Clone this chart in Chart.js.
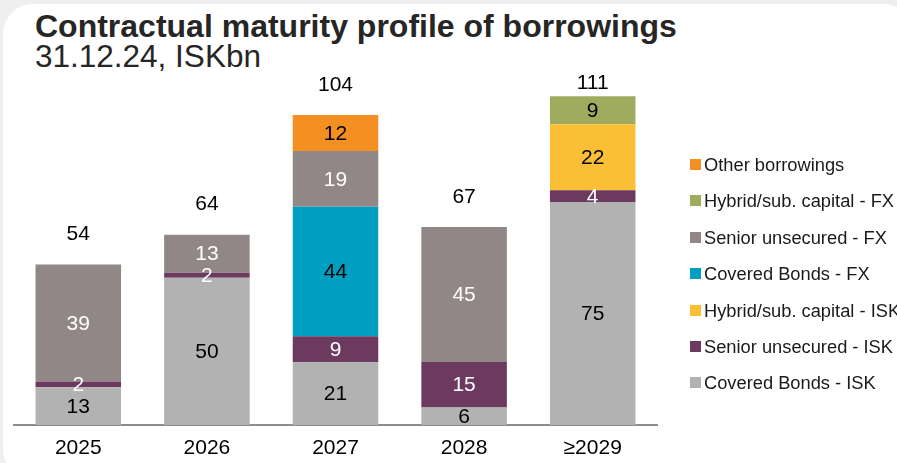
<!DOCTYPE html>
<html>
<head>
<meta charset="utf-8">
<script src="https://cdn.jsdelivr.net/npm/chart.js@4"></script>
<style>
  html, body { margin: 0; padding: 0; }
  body { width: 897px; height: 463px; overflow: hidden; background: #efefef; position: relative;
         font-family: "Liberation Sans", Arial, sans-serif; }
  .card { position: absolute; left: 3px; top: 4px; width: 910px; height: 475px; background: #fff; border-radius: 30px; }
  #myChart { position: absolute; left: 0; top: 0; }
  .title { position: absolute; left: 35px; top: 9px; font-size: 32px; font-weight: bold; color: #262626; line-height: 34px; white-space: nowrap; }
  .sub { position: absolute; left: 35px; top: 39px; font-size: 31.5px; color: #262626; line-height: 34px; white-space: nowrap; }
  #legend { position: absolute; left: 690px; top: 154px; }
  .item { height: 36.4px; font-size: 18.3px; color: #1a1a1a; white-space: nowrap; display: flex; align-items: flex-start; }
  .box { width: 11px; height: 11px; margin-top: 5px; margin-right: 3px; }
</style>
</head>
<body>
<div class="card"></div>
<div class="title">Contractual maturity profile of borrowings</div>
<div class="sub">31.12.24, ISKbn</div>
<canvas id="myChart" width="897" height="463"></canvas>
<div id="legend"></div>
<script>
const ctx = document.getElementById('myChart');

// data, ISKbn (segment heights estimated, labels are rounded)
const years = ['2025', '2026', '2027', '2028', '≥2029'];
const coveredIsk = [12.7, 49.5, 21.1, 5.9, 75.0];
const seniorIsk = [1.9, 1.7, 8.7, 15.3, 3.9];
const hybridIsk = [0, 0, 0, 0, 22.2];
const coveredFx = [0, 0, 43.6, 0, 0];
const seniorFx = [39.4, 12.8, 18.7, 45.4, 0];
const hybridFx = [0, 0, 0, 0, 9.4];
const other = [0, 0, 12.1, 0, 0];
const totals = [54, 64, 104, 67, 111];

const fontFam = '"Liberation Sans", Arial, sans-serif';

function ds(label, data, color, textColor){
    return {
        label: label,
        data: data,
        backgroundColor: color,
        textColor: textColor,
        barPercentage: 0.665,
        categoryPercentage: 1.0
    };
}

const datasets = [
    ds('Covered Bonds - ISK', coveredIsk, '#b2b2b2', '#000'),
    ds('Senior unsecured - ISK', seniorIsk, '#6b3a5e', '#fff'),
    ds('Hybrid/sub. capital - ISK', hybridIsk, '#fbbf36', '#000'),
    ds('Covered Bonds - FX', coveredFx, '#009fc2', '#000'),
    ds('Senior unsecured - FX', seniorFx, '#918787', '#fff'),
    ds('Hybrid/sub. capital - FX', hybridFx, '#9fab5e', '#000'),
    ds('Other borrowings', other, '#f39021', '#000')
];

// draws the value in each segment and the total above each bar
const labelPlugin = {
    id: 'labels',
    afterDatasetsDraw(chart){
        const c = chart.ctx;
        c.save();
        c.font = '21px ' + fontFam;
        c.textAlign = 'center';
        c.textBaseline = 'middle';
        let tops = [];
        chart.data.datasets.forEach((d, i) => {
            const meta = chart.getDatasetMeta(i);
            meta.data.forEach((bar, j) => {
                if(!d.data[j]) return;
                c.fillStyle = d.textColor;
                c.fillText(Math.round(d.data[j]), bar.x, (bar.y + bar.base) / 2 + 1);
                if(tops[j] === undefined || bar.y < tops[j].y){
                    tops[j] = {x: bar.x, y: bar.y};
                }
            });
        });
        c.fillStyle = '#000';
        tops.forEach((t, j) => {
            const y = Math.max(t.y - 30, chart.chartArea.top + 3);
            c.fillText(totals[j], t.x, y);
        });
        c.restore();
    }
};

new Chart(ctx, {
    type: 'bar',
    data: {
        labels: years,
        datasets: datasets
    },
    options: {
        responsive: false,
        animation: false,
        layout: {
            padding: {left: 14, right: 240, top: 80, bottom: 2}
        },
        plugins: {
            legend: {display: false},
            tooltip: {enabled: false}
        },
        scales: {
            x: {
                stacked: true,
                grid: {display: false, drawTicks: false, tickLength: 0},
                border: {display: true, color: '#8c8c8c', width: 2},
                ticks: {color: '#000', padding: 11, font: {size: 21, family: fontFam}},
                afterFit: function(scale){ scale.height = 36; }
            },
            y: {
                stacked: true,
                display: false,
                min: 0,
                max: 116
            }
        }
    },
    plugins: [labelPlugin]
});

// legend, top item is the top of the stack
const legend = document.getElementById('legend');
datasets.slice().reverse().forEach(d => {
    const item = document.createElement('div');
    item.className = 'item';
    item.innerHTML = '<div class="box" style="background:' + d.backgroundColor + '"></div>' + d.label;
    legend.appendChild(item);
});
</script>
</body>
</html>
